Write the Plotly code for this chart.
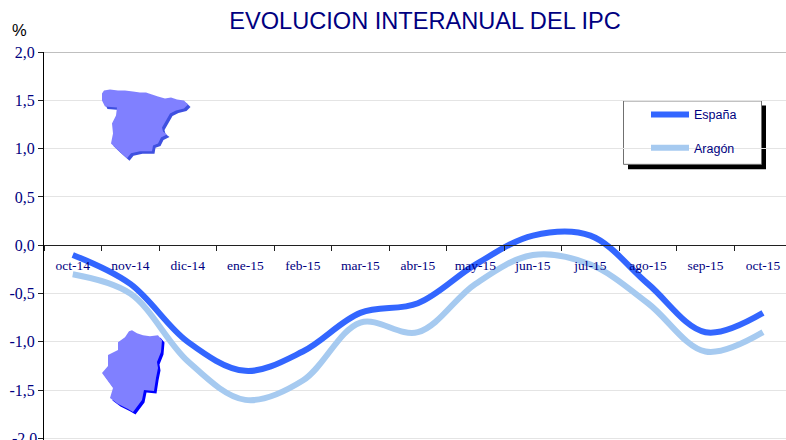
import plotly.graph_objects as go

months = ["oct-14","nov-14","dic-14","ene-15","feb-15","mar-15","abr-15","may-15","jun-15","jul-15","ago-15","sep-15","oct-15"]
espana = [-0.1,-0.4,-1.0,-1.3,-1.1,-0.7,-0.6,-0.2,0.1,0.1,-0.4,-0.9,-0.7]
aragon = [-0.3,-0.5,-1.2,-1.6,-1.4,-0.8,-0.9,-0.4,-0.1,-0.2,-0.6,-1.1,-0.9]
y_ticks = [2,1.5,1,0.5,0,-0.5,-1,-1.5,-2]
y_labels = ["2,0","1,5","1,0","0,5","0,0","-0,5","-1,0","-1,5",""]
y_bottom_label = "-2,0"

W, H = 786, 440
L, T = 44, 51.5
NAVY = "#000080"

def px(x): return (x - L) / (W - L)
def py(y): return 1 - (y - T) / (H - T)
def path(points, dx=0, dy=0):
    return "M " + " L ".join(f"{px(x+dx):.5f},{py(y+dy):.5f}" for x, y in points) + " Z"

spain_map = [(102,93),(104,90),(110,89),(118,90),(125,90),(133,91),(140,92),(146,92),(152,94),(158,96),(165,98),(171,97),(177,99),(184,100),(188,104),(184,108),(176,110),(170,113),(166,120),(162,127),(163,131),(167,134),(161,137),(158,143),(153,145),(152,151),(140,151),(131,153),(127,158),(118,150),(111,143),(113,133),(112,123),(116,115),(117,107),(105,106),(102,100)]
aragon_map = [(129,331),(132,330),(137,333),(143,335),(150,336),(158,335),(162,340),(161,352),(157,362),(158,368),(156,378),(154,391),(144,390),(142,400),(133,412),(128,409),(118,404),(110,398),(113,388),(102,373),(108,366),(108,355),(118,350),(118,342),(125,337)]

fig = go.Figure()
for name, vals, col in [("España", espana, "#3366ff"), ("Aragón", aragon, "#a6caf0")]:
    fig.add_trace(go.Scatter(x=months, y=vals, name=name, mode="lines", legendgroup=name,
                             line=dict(color=col, width=6, shape="spline", smoothing=1)))

shapes = [
    dict(type="line", xref="paper", yref="y", x0=0, x1=1, y0=2, y1=2, line=dict(color="#808080", width=1), layer="below"),
    dict(type="line", xref="paper", yref="y", x0=0, x1=1, y0=-2, y1=-2, line=dict(color="#303030", width=1), layer="below"),
    dict(type="rect", xref="paper", yref="paper", x0=px(628), x1=px(766), y0=py(105), y1=py(169), fillcolor="#000000", line=dict(width=0), layer="below"),
    dict(type="rect", xref="paper", yref="paper", x0=px(623.5), x1=px(761.5), y0=py(100.5), y1=py(164), fillcolor="#ffffff", line=dict(color="#707070", width=1), layer="below"),
    dict(type="path", xref="paper", yref="paper", path=path(spain_map, 2.5, 2.5), fillcolor="#3f50e0", line=dict(width=0), layer="above"),
    dict(type="path", xref="paper", yref="paper", path=path(spain_map), fillcolor="#8080ff", line=dict(width=0), layer="above"),
    dict(type="path", xref="paper", yref="paper", path=path(aragon_map, 2.5, 2.5), fillcolor="#0000ff", line=dict(width=0), layer="above"),
    dict(type="path", xref="paper", yref="paper", path=path(aragon_map), fillcolor="#8080ff", line=dict(width=0), layer="above"),
]

fig.update_layout(
    width=W, height=H, autosize=False,
    margin=dict(l=L, r=0, t=T, b=0),
    paper_bgcolor="white", plot_bgcolor="white",
    title=dict(text="EVOLUCION INTERANUAL DEL IPC", x=425/W, xanchor="center", y=1-21/H, yanchor="middle",
               font=dict(family="Liberation Sans", size=23.6, color=NAVY)),
    xaxis=dict(type="category", categoryorder="array", categoryarray=months, range=[-0.5, 12.4],
               anchor="free", position=py(245), tickson="boundaries", ticks="outside", ticklen=5, tickcolor="#202020",
               showline=True, linecolor="#202020", linewidth=1, showgrid=False, zeroline=False,
               ticklabelstandoff=8, tickangle=0,
               tickfont=dict(family="Liberation Serif", size=13.5, color=NAVY)),
    yaxis=dict(range=[-(H-245)/96.75, 2], tickvals=y_ticks, ticktext=y_labels, ticks="outside", ticklen=5,
               tickcolor="#202020", showline=True, linecolor="#000000", linewidth=1, zeroline=False,
               showgrid=True, gridcolor="#e4e4e4", gridwidth=1,
               tickfont=dict(family="Liberation Serif", size=16, color=NAVY)),
    legend=dict(x=px(646), y=py(99.5), xanchor="left", yanchor="top", bgcolor="rgba(0,0,0,0)", borderwidth=0,
                itemwidth=38, tracegroupgap=14, itemclick=False,
                font=dict(family="Liberation Sans", size=12.5, color=NAVY)),
    annotations=[
        dict(text="%", xref="paper", yref="paper", x=px(19), y=py(29), xanchor="center", yanchor="middle",
             showarrow=False, font=dict(family="Liberation Sans", size=16.5, color="#000000")),
        dict(text=y_bottom_label, xref="paper", yref="y", x=px(37.5), y=-2, xanchor="right", yanchor="middle",
             showarrow=False, borderpad=0, font=dict(family="Liberation Serif", size=16, color=NAVY)),
    ],
    shapes=shapes,
)
fig.write_html("out.html", post_script="document.body.style.margin='0';", config=dict(displayModeBar=False))
